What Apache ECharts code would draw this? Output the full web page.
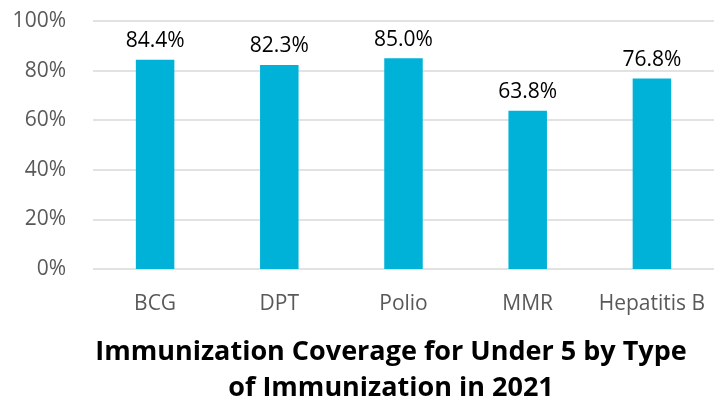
<!DOCTYPE html>
<html><head><meta charset="utf-8">
<script src="https://cdn.jsdelivr.net/npm/echarts@6/dist/echarts.min.js"></script>
<style>html,body{margin:0;padding:0;background:#fff}#c{width:715px;height:402px}</style>
</head><body><div id="c"></div>
<script>
var categories = ["BCG", "DPT", "Polio", "MMR", "Hepatitis B"];
var coverage = [84.4, 82.3, 85.0, 63.8, 76.8];
var yTicks = [0, 20, 40, 60, 80, 100];
var titleText = "Immunization Coverage for Under 5 by Type\nof Immunization in 2021";

var chart = echarts.init(document.getElementById('c'), null, {renderer: 'canvas'});
var font = '"Open Sans", "Noto Sans", sans-serif';
chart.setOption({
  animation: false,
  graphic: [{
    type: 'text', x: 391, y: 334, silent: true,
    style: {
      text: titleText, fill: '#000', align: 'center', verticalAlign: 'top',
      textAlign: 'center', textVerticalAlign: 'top',
      fontFamily: '"Open Sans", "Noto Sans", sans-serif', fontSize: 27, fontWeight: 'bold', lineHeight: 36
    }
  }],
  grid: {left: 93, right: 1, top: 21, bottom: 133},
  xAxis: {
    type: 'category', data: categories,
    axisLine: {show: false}, axisTick: {show: false},
    axisLabel: {color: '#595959', fontSize: 21, fontFamily: font, margin: 25, interval: 0}
  },
  yAxis: {
    type: 'value', min: yTicks[0], max: yTicks[yTicks.length - 1], interval: 20,
    axisLine: {show: false}, axisTick: {show: false},
    axisLabel: {color: '#595959', fontSize: 21, fontFamily: font, margin: 27, formatter: '{value}%'},
    splitLine: {lineStyle: {color: '#d9d9d9', width: 1.5}}
  },
  series: [{
    type: 'bar', data: coverage, barWidth: '31%',
    itemStyle: {color: '#00B2D8'},
    label: {show: true, position: 'top', distance: 8, color: '#000', fontSize: 21, fontFamily: font,
      formatter: function (p) { return p.value.toFixed(1) + '%'; }}
  }]
});
</script></body></html>
